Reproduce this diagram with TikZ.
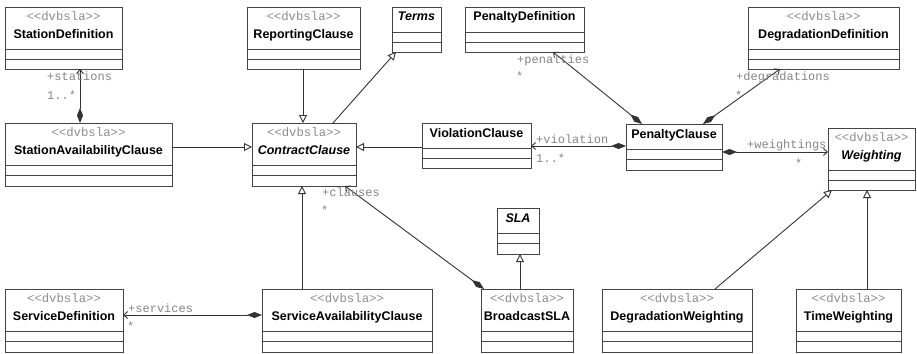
\documentclass[tikz,border=0pt]{standalone}
\usepackage{fontspec}
\setmainfont{Liberation Sans}
\newfontfamily\monofont{Liberation Mono}
\usetikzlibrary{arrows.meta,calc}
\definecolor{boxline}{HTML}{444444}
\definecolor{conline}{HTML}{333333}
\definecolor{stereo}{HTML}{8E8E8E}
\definecolor{roletext}{HTML}{858585}
\tikzset{
  classbox/.style={draw=boxline, line width=0.9pt, fill=white, inner sep=0pt, outer sep=0pt, anchor=north west, rectangle},
  compline/.style={draw=boxline, line width=0.9pt},
  stereotext/.style={font=\monofont\fontsize{12.3}{14}\selectfont, text=stereo, inner sep=0pt, anchor=base},
  nametext/.style={font=\fontsize{12.5}{14}\selectfont\bfseries, inner sep=0pt, anchor=base},
  absname/.style={font=\fontsize{12.5}{14}\selectfont\bfseries\itshape, inner sep=0pt, anchor=base},
  role/.style={font=\monofont\fontsize{12}{14}\selectfont, text=roletext, anchor=base west, inner sep=0pt},
  conn/.style={draw=conline, line width=0.9pt},
  gen/.style={conn, -{Triangle[open, length=8pt, width=8pt, fill=white]}},
  comp/.style={conn, {Diamond[length=15pt, width=6pt, fill=conline]}-{Straight Barb[length=4pt, width=7pt]}},
}
% class box with stereotype: id, x, y, w, h, name style, name
\newcommand\umlclass[7]{%
  \node[classbox, minimum width=#4pt, minimum height=#5pt] (#1) at (#2,#3) {};
  \draw[compline] ($(#1.north west)+(0,42)$) -- ($(#1.north east)+(0,42)$);
  \draw[compline] ($(#1.north west)+(0,{(42+#5)/2})$) -- ($(#1.north east)+(0,{(42+#5)/2})$);
  \node[stereotext] (#1-st) at ($(#1.north)+(0,13.5)$) {<\kern0pt<dvbsla>\kern0pt>};
  \node[#6] (#1-nm) at ($(#1.north)+(0,31)$) {#7};
}
% class box without stereotype
\newcommand\umlplain[7]{%
  \node[classbox, minimum width=#4pt, minimum height=#5pt] (#1) at (#2,#3) {};
  \draw[compline] ($(#1.north west)+(0,25)$) -- ($(#1.north east)+(0,25)$);
  \draw[compline] ($(#1.north west)+(0,{(25+#5)/2})$) -- ($(#1.north east)+(0,{(25+#5)/2})$);
  \node[#6] (#1-nm) at ($(#1.north)+(0,14)$) {#7};
}
\begin{document}
\begin{tikzpicture}[x=1pt, y=-1pt]
\useasboundingbox (0,0) rectangle (917,353);

\umlclass{SD}{5}{7}{117}{62}{nametext}{StationDefinition}
\umlclass{StAC}{5}{123}{167}{63}{nametext}{StationAvailabilityClause}
\umlclass{RC}{247}{7}{113}{62}{nametext}{ReportingClause}
\umlplain{T}{392}{7}{49}{45}{absname}{Terms}
\umlclass{CC}{252}{123}{104}{63}{absname}{ContractClause}
\umlplain{VC}{422}{123}{109}{45}{nametext}{ViolationClause}
\umlplain{PD}{465}{7}{119}{45}{nametext}{PenaltyDefinition}
\umlplain{PC}{626}{124}{96}{46}{nametext}{PenaltyClause}
\umlclass{DD}{748}{7}{151}{62}{nametext}{DegradationDefinition}
\umlclass{W}{828}{128}{87}{62}{absname}{Weighting}
\umlclass{SvD}{5}{289}{118}{63}{nametext}{ServiceDefinition}
\umlclass{SAC}{262}{289}{170}{63}{nametext}{ServiceAvailabilityClause}
\umlplain{SLA}{497}{208}{42}{46}{absname}{SLA}
\umlclass{BSLA}{481}{289}{92}{63}{nametext}{BroadcastSLA}
\umlclass{DW}{602}{289}{150}{63}{nametext}{DegradationWeighting}
\umlclass{TW}{796}{289}{105}{63}{nametext}{TimeWeighting}

% connectors
\draw[comp] ($(StAC.north west)+(75,0)$) -- ($(SD.south west)+(75,0)$);
\draw[gen] ($(StAC.north east)+(0,24)$) -- ($(CC.north west)+(0,24)$);
\draw[gen] ($(RC.south west)+(56,0)$) -- ($(CC.north west)+(51,0)$);
\draw[gen] ($(CC.north west)+(81,0)$) -- ($(T.south west)+(4,0)$);
\draw[gen] ($(VC.north west)+(0,24)$) -- ($(CC.north east)+(0,24)$);
\draw[comp] ($(PC.north west)+(0,22)$) -- ($(VC.north east)+(0,23)$);
\draw[comp] ($(PC.north west)+(16,0)$) -- ($(PD.south west)+(88,0)$);
\draw[comp] ($(PC.north west)+(77,0)$) -- ($(DD.south west)+(32,0)$);
\draw[comp] ($(PC.north east)+(0,28)$) -- ($(W.north west)+(0,24)$);
\draw[comp] ($(BSLA.north west)+(3,0)$) -- ($(CC.south west)+(93,0)$);
\draw[gen] ($(SAC.north west)+(40,0)$) -- ($(CC.south west)+(50,0)$);
\draw[comp] ($(SAC.north west)+(0,26)$) -- ($(SvD.north east)+(0,26)$);
\draw[gen] ($(BSLA.north west)+(39,0)$) -- ($(SLA.south west)+(23,0)$);
\draw[gen] ($(DW.north west)+(113,0)$) -- ($(W.south west)+(4,0)$);
\draw[gen] ($(TW.north west)+(71,0)$) -- ($(W.south west)+(39,0)$);

% role labels
\node[role] (l1) at (47,80.5) {+stations};
\node[role] (l2) at (47,99) {1..*};
\node[role] (l3) at (536,143.3) {+violation};
\node[role] (l4) at (536,162.5) {1..*};
\node[role] (l5) at (517,63.5) {+penalties};
\node[role] (l6) at (516,80.7) {*};
\node[role] (l7) at (736,80.7) {+degradations};
\node[role] (l8) at (735,99) {*};
\node[role] (l9) at (747,148.5) {+weightings};
\node[role] (l10) at (795,167.4) {*};
\node[role] (l11) at (322,196.7) {+clauses};
\node[role] (l12) at (321,214) {*};
\node[role] (l13) at (128,312.3) {+services};
\node[role] (l14) at (127,330.4) {*};
\end{tikzpicture}
\end{document}
